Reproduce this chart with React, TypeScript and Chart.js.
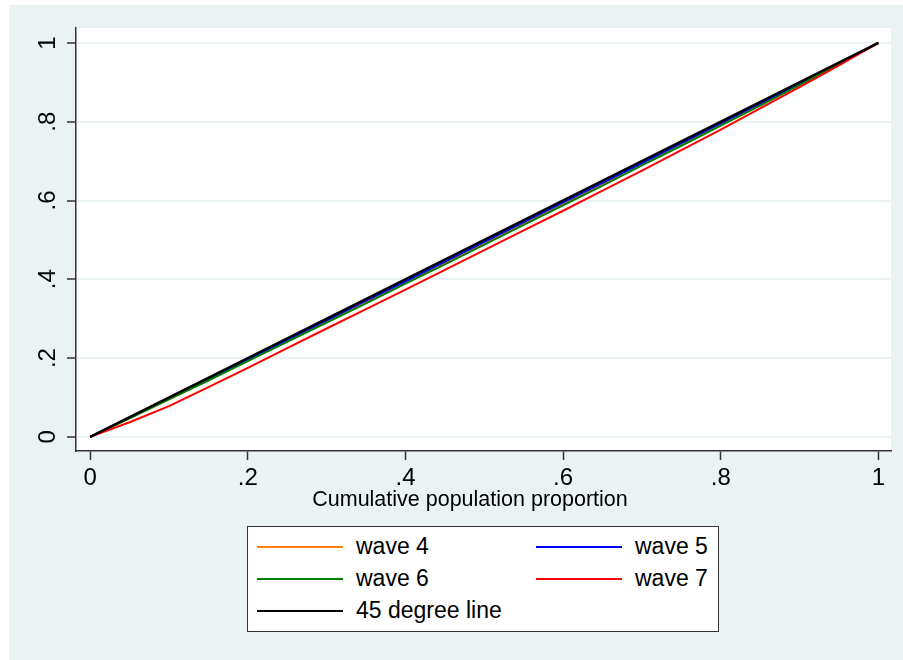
import React, { useEffect, useRef } from 'react';
import { Chart, registerables } from 'chart.js';

Chart.register(...registerables);

// ---- data ----
const popShare = [0, 0.05, 0.1, 0.15, 0.2, 0.25, 0.3, 0.35, 0.4, 0.45, 0.5, 0.55, 0.6, 0.65, 0.7, 0.75, 0.8, 0.85, 0.9, 0.95, 1];
const wave4 = [0, 0.048, 0.096, 0.145, 0.194, 0.243, 0.293, 0.342, 0.392, 0.441, 0.491, 0.541, 0.591, 0.641, 0.692, 0.742, 0.793, 0.844, 0.895, 0.947, 1];
const wave5 = [0, 0.049, 0.098, 0.147, 0.197, 0.246, 0.296, 0.346, 0.395, 0.445, 0.495, 0.545, 0.595, 0.645, 0.695, 0.746, 0.796, 0.846, 0.897, 0.948, 1];
const wave6 = [0, 0.047, 0.095, 0.143, 0.192, 0.241, 0.29, 0.339, 0.389, 0.438, 0.488, 0.538, 0.588, 0.638, 0.689, 0.739, 0.79, 0.841, 0.893, 0.946, 1];
const wave7 = [0, 0.037, 0.078, 0.126, 0.175, 0.225, 0.275, 0.324, 0.374, 0.424, 0.474, 0.524, 0.574, 0.625, 0.676, 0.728, 0.78, 0.834, 0.888, 0.943, 1];
const lineX = [0, 1];
const lineY = [0, 1];

const xTickValues = [0, 0.2, 0.4, 0.6, 0.8, 1];
const xTickLabels = ['0', '.2', '.4', '.6', '.8', '1'];
const yTickValues = [0, 0.2, 0.4, 0.6, 0.8, 1];
const yTickLabels = ['0', '.2', '.4', '.6', '.8', '1'];

const seriesNames = ['wave 4', 'wave 5', 'wave 6', 'wave 7', '45 degree line'];
const seriesColors = ['#FF8000', '#0000FF', '#008000', '#FF0000', '#000000'];
const xTitle = 'Cumulative population proportion';

const FONT = '"Liberation Sans", Arial, Helvetica, sans-serif';

const plotBg = {
  id: 'plotBg',
  beforeDraw(chart: any) {
    const { ctx, chartArea: a } = chart;
    ctx.save();
    ctx.fillStyle = '#ffffff';
    ctx.fillRect(a.left, a.top, a.right - a.left, a.bottom - a.top);
    ctx.restore();
  },
};

function pairs(xs: number[], ys: number[]) {
  return xs.map((x, i) => ({ x, y: ys[i] }));
}

export default function App() {
  const ref = useRef<HTMLCanvasElement | null>(null);

  useEffect(() => {
    if (!ref.current) return;
    Chart.defaults.font.family = FONT;
    const seriesY = [wave4, wave5, wave6, wave7];
    const datasets: any[] = seriesY.map((ys, i) => ({
      label: seriesNames[i],
      data: pairs(popShare, ys),
      borderColor: seriesColors[i],
      borderWidth: 2,
      pointRadius: 0,
      fill: false,
      tension: 0,
      order: 5 - i,
    }));
    datasets.push({
      label: seriesNames[4],
      data: pairs(lineX, lineY),
      borderColor: seriesColors[4],
      borderWidth: 2.5,
      pointRadius: 0,
      fill: false,
      tension: 0,
      order: 0,
    });

    const chart = new Chart(ref.current, {
      type: 'line',
      data: { datasets },
      plugins: [plotBg],
      options: {
        animation: false,
        responsive: false,
        devicePixelRatio: 1,
        layout: { padding: { left: 0, top: 28, right: 12, bottom: 139 } },
        plugins: { legend: { display: false }, tooltip: { enabled: false } },
        scales: {
          x: {
            type: 'linear',
            min: -0.018,
            max: 1.016,
            afterBuildTicks: (s: any) => {
              s.ticks = xTickValues.map((v) => ({ value: v }));
            },
            afterFit: (s: any) => {
              s.height = 70;
            },
            ticks: {
              autoSkip: false,
              maxRotation: 0,
              minRotation: 0,
              padding: 4,
              color: '#000',
              font: { size: 24, family: FONT },
              callback: (_v: any, i: number) => xTickLabels[i],
            },
            grid: {
              drawOnChartArea: false,
              drawTicks: true,
              tickLength: 9,
              tickColor: '#333',
              tickWidth: 1.5,
            },
            border: { display: true, color: '#333', width: 1.5 },
          },
          y: {
            type: 'linear',
            min: -0.036,
            max: 1.038,
            afterBuildTicks: (s: any) => {
              s.ticks = yTickValues.map((v) => ({ value: v }));
            },
            afterFit: (s: any) => {
              s.width = 76;
            },
            ticks: {
              autoSkip: false,
              minRotation: 90,
              maxRotation: 90,
              crossAlign: 'center',
              padding: 9,
              color: '#000',
              font: { size: 24, family: FONT },
              callback: (_v: any, i: number) => yTickLabels[i],
            },
            grid: {
              color: '#EAF2F3',
              lineWidth: 2,
              drawTicks: true,
              tickLength: 9,
              tickColor: '#333',
              tickWidth: 1.5,
            },
            border: { display: true, color: '#333', width: 1.5 },
          },
        },
      } as any,
    });
    return () => chart.destroy();
  }, []);

  const legendRows = [
    [0, 1],
    [2, 3],
    [4],
  ];
  const rowCenters = [20, 52, 84];
  const colLine = [9, 288];
  const colText = [108, 387];

  return (
    <div style={{ position: 'fixed', left: 0, top: 0, width: 903, height: 660, background: '#ffffff', overflow: 'hidden' }}>
      <div style={{ position: 'absolute', left: 9, top: 5, width: 894, height: 655, background: '#EAF2F3' }} />
      <canvas ref={ref} width={903} height={660} style={{ position: 'absolute', left: 0, top: 0, width: 903, height: 660 }} />
      <div
        style={{
          position: 'absolute',
          left: 470,
          top: 486,
          transform: 'translateX(-50%)',
          fontFamily: FONT,
          fontSize: 21.5,
          lineHeight: '26px',
          whiteSpace: 'nowrap',
          color: '#000',
        }}
      >
        {xTitle}
      </div>
      <div
        style={{
          position: 'absolute',
          left: 247,
          top: 526,
          width: 472,
          height: 106,
          boxSizing: 'border-box',
          border: '1px solid #333',
          background: '#ffffff',
          fontFamily: FONT,
          fontSize: 23,
          color: '#000',
        }}
      >
        {legendRows.map((row, r) =>
          row.map((si, c) => (
            <React.Fragment key={si}>
              <div
                style={{
                  position: 'absolute',
                  left: colLine[c],
                  top: rowCenters[r] - 1,
                  width: 86,
                  height: 2,
                  background: seriesColors[si],
                }}
              />
              <div
                style={{
                  position: 'absolute',
                  left: colText[c],
                  top: rowCenters[r] - 14,
                  lineHeight: '27px',
                  whiteSpace: 'nowrap',
                }}
              >
                {seriesNames[si]}
              </div>
            </React.Fragment>
          ))
        )}
      </div>
    </div>
  );
}
